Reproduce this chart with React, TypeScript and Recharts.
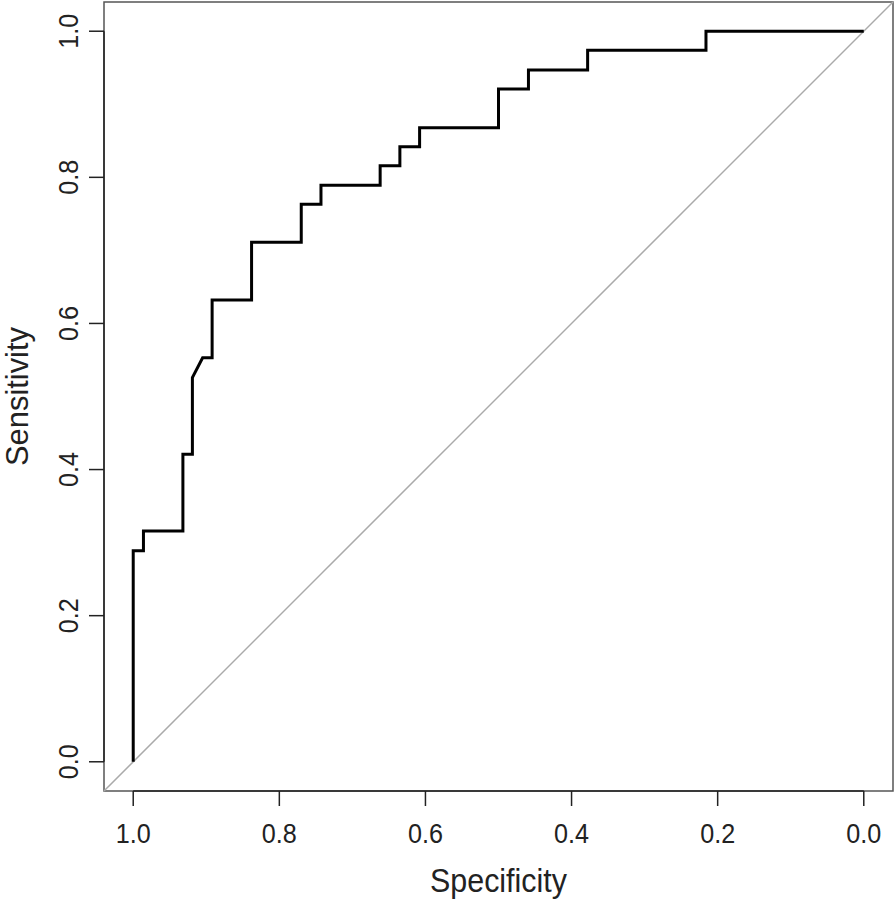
import React from 'react';
import {
  ComposedChart,
  Line,
  XAxis,
  YAxis,
  ReferenceLine,
  ReferenceArea,
} from 'recharts';

// ROC curve vertices (specificity, sensitivity)
const specificity = [
  1.0, 1.0, 1.0, 0.986, 0.986, 0.932, 0.932, 0.919, 0.919, 0.905, 0.892,
  0.892, 0.838, 0.838, 0.77, 0.77, 0.743, 0.743, 0.662, 0.662, 0.635,
  0.635, 0.608, 0.608, 0.5, 0.5, 0.459, 0.459, 0.378, 0.378, 0.216, 0.216, 0.0,
];
const sensitivity = [
  0.0, 0.237, 0.289, 0.289, 0.316, 0.316, 0.421, 0.421, 0.526, 0.553, 0.553,
  0.632, 0.632, 0.711, 0.711, 0.763, 0.763, 0.789, 0.789, 0.816, 0.816,
  0.842, 0.842, 0.868, 0.868, 0.921, 0.921, 0.947, 0.947, 0.974, 0.974, 1.0, 1.0,
];

const tickValues = [1.0, 0.8, 0.6, 0.4, 0.2, 0.0];
const yTickValues = [0.0, 0.2, 0.4, 0.6, 0.8, 1.0];
const axisDomain: [number, number] = [-0.04, 1.04];

const data = specificity.map((s, i) => ({ spec: s, sens: sensitivity[i] }));

const FONT = '"Liberation Sans", Arial, sans-serif';
const INK = '#222';

const XTick = (props: any) => {
  const { x, y, payload } = props;
  return (
    <text
      x={x}
      y={y + 35}
      textAnchor="middle"
      fontFamily={FONT}
      fontSize={28}
      textLength={35}
      lengthAdjust="spacingAndGlyphs"
      fill={INK}
    >
      {Number(payload.value).toFixed(1)}
    </text>
  );
};

const YTick = (props: any) => {
  const { x, y, payload } = props;
  const bx = x - 9;
  return (
    <text
      x={bx}
      y={y}
      transform={`rotate(-90, ${bx}, ${y})`}
      textAnchor="middle"
      fontFamily={FONT}
      fontSize={28}
      textLength={35}
      lengthAdjust="spacingAndGlyphs"
      fill={INK}
    >
      {Number(payload.value).toFixed(1)}
    </text>
  );
};

const xTitle = (props: any) => {
  const vb = props.viewBox;
  return (
    <text
      x={vb.x + vb.width / 2}
      y={vb.y + 101}
      textAnchor="middle"
      fontFamily={FONT}
      fontSize={33}
      textLength={137}
      lengthAdjust="spacingAndGlyphs"
      fill={INK}
    >
      Specificity
    </text>
  );
};

const yTitle = (props: any) => {
  const vb = props.viewBox;
  const cx = vb.x - 16;
  const cy = vb.y + vb.height / 2;
  return (
    <text
      x={cx}
      y={cy}
      transform={`rotate(-90, ${cx}, ${cy})`}
      textAnchor="middle"
      fontFamily={FONT}
      fontSize={31}
      textLength={139}
      lengthAdjust="spacingAndGlyphs"
      fill={INK}
    >
      Sensitivity
    </text>
  );
};

export default function App() {
  return (
    <div style={{ position: 'absolute', left: 0, top: 0, width: 896, height: 900, background: '#fff' }}>
      <ComposedChart
        width={896}
        height={900}
        data={data}
        margin={{ top: 2, right: 3, bottom: 49, left: 44 }}
      >
        <XAxis
          dataKey="spec"
          type="number"
          domain={axisDomain}
          allowDataOverflow
          reversed
          ticks={tickValues}
          interval={0}
          height={60}
          axisLine={false}
          tickLine={{ stroke: INK, strokeWidth: 1.5 }}
          tickSize={15}
          tick={<XTick />}
          label={xTitle}
        />
        <YAxis
          dataKey="sens"
          type="number"
          domain={axisDomain}
          allowDataOverflow
          ticks={yTickValues}
          interval={0}
          width={60}
          axisLine={false}
          tickLine={{ stroke: INK, strokeWidth: 1.5 }}
          tickSize={15}
          tick={<YTick />}
          label={yTitle}
        />
        {/* plot box */}
        <ReferenceArea
          x1={axisDomain[0]}
          x2={axisDomain[1]}
          y1={axisDomain[0]}
          y2={axisDomain[1]}
          fill="none"
          stroke="#555"
          strokeWidth={1.5}
          ifOverflow="visible"
        />
        {/* axis lines spanning 0..1 */}
        <ReferenceLine
          segment={[{ x: 1, y: axisDomain[0] }, { x: 0, y: axisDomain[0] }]}
          stroke={INK}
          strokeWidth={1.5}
          ifOverflow="visible"
        />
        <ReferenceLine
          segment={[{ x: axisDomain[1], y: 0 }, { x: axisDomain[1], y: 1 }]}
          stroke={INK}
          strokeWidth={1.5}
          ifOverflow="visible"
        />
        {/* chance diagonal */}
        <ReferenceLine
          segment={[{ x: axisDomain[1], y: axisDomain[0] }, { x: axisDomain[0], y: axisDomain[1] }]}
          stroke="#aaa"
          strokeWidth={1.5}
          ifOverflow="visible"
        />
        <Line
          dataKey="sens"
          type="linear"
          stroke="#000"
          strokeWidth={3}
          dot={false}
          isAnimationActive={false}
        />
      </ComposedChart>
    </div>
  );
}
